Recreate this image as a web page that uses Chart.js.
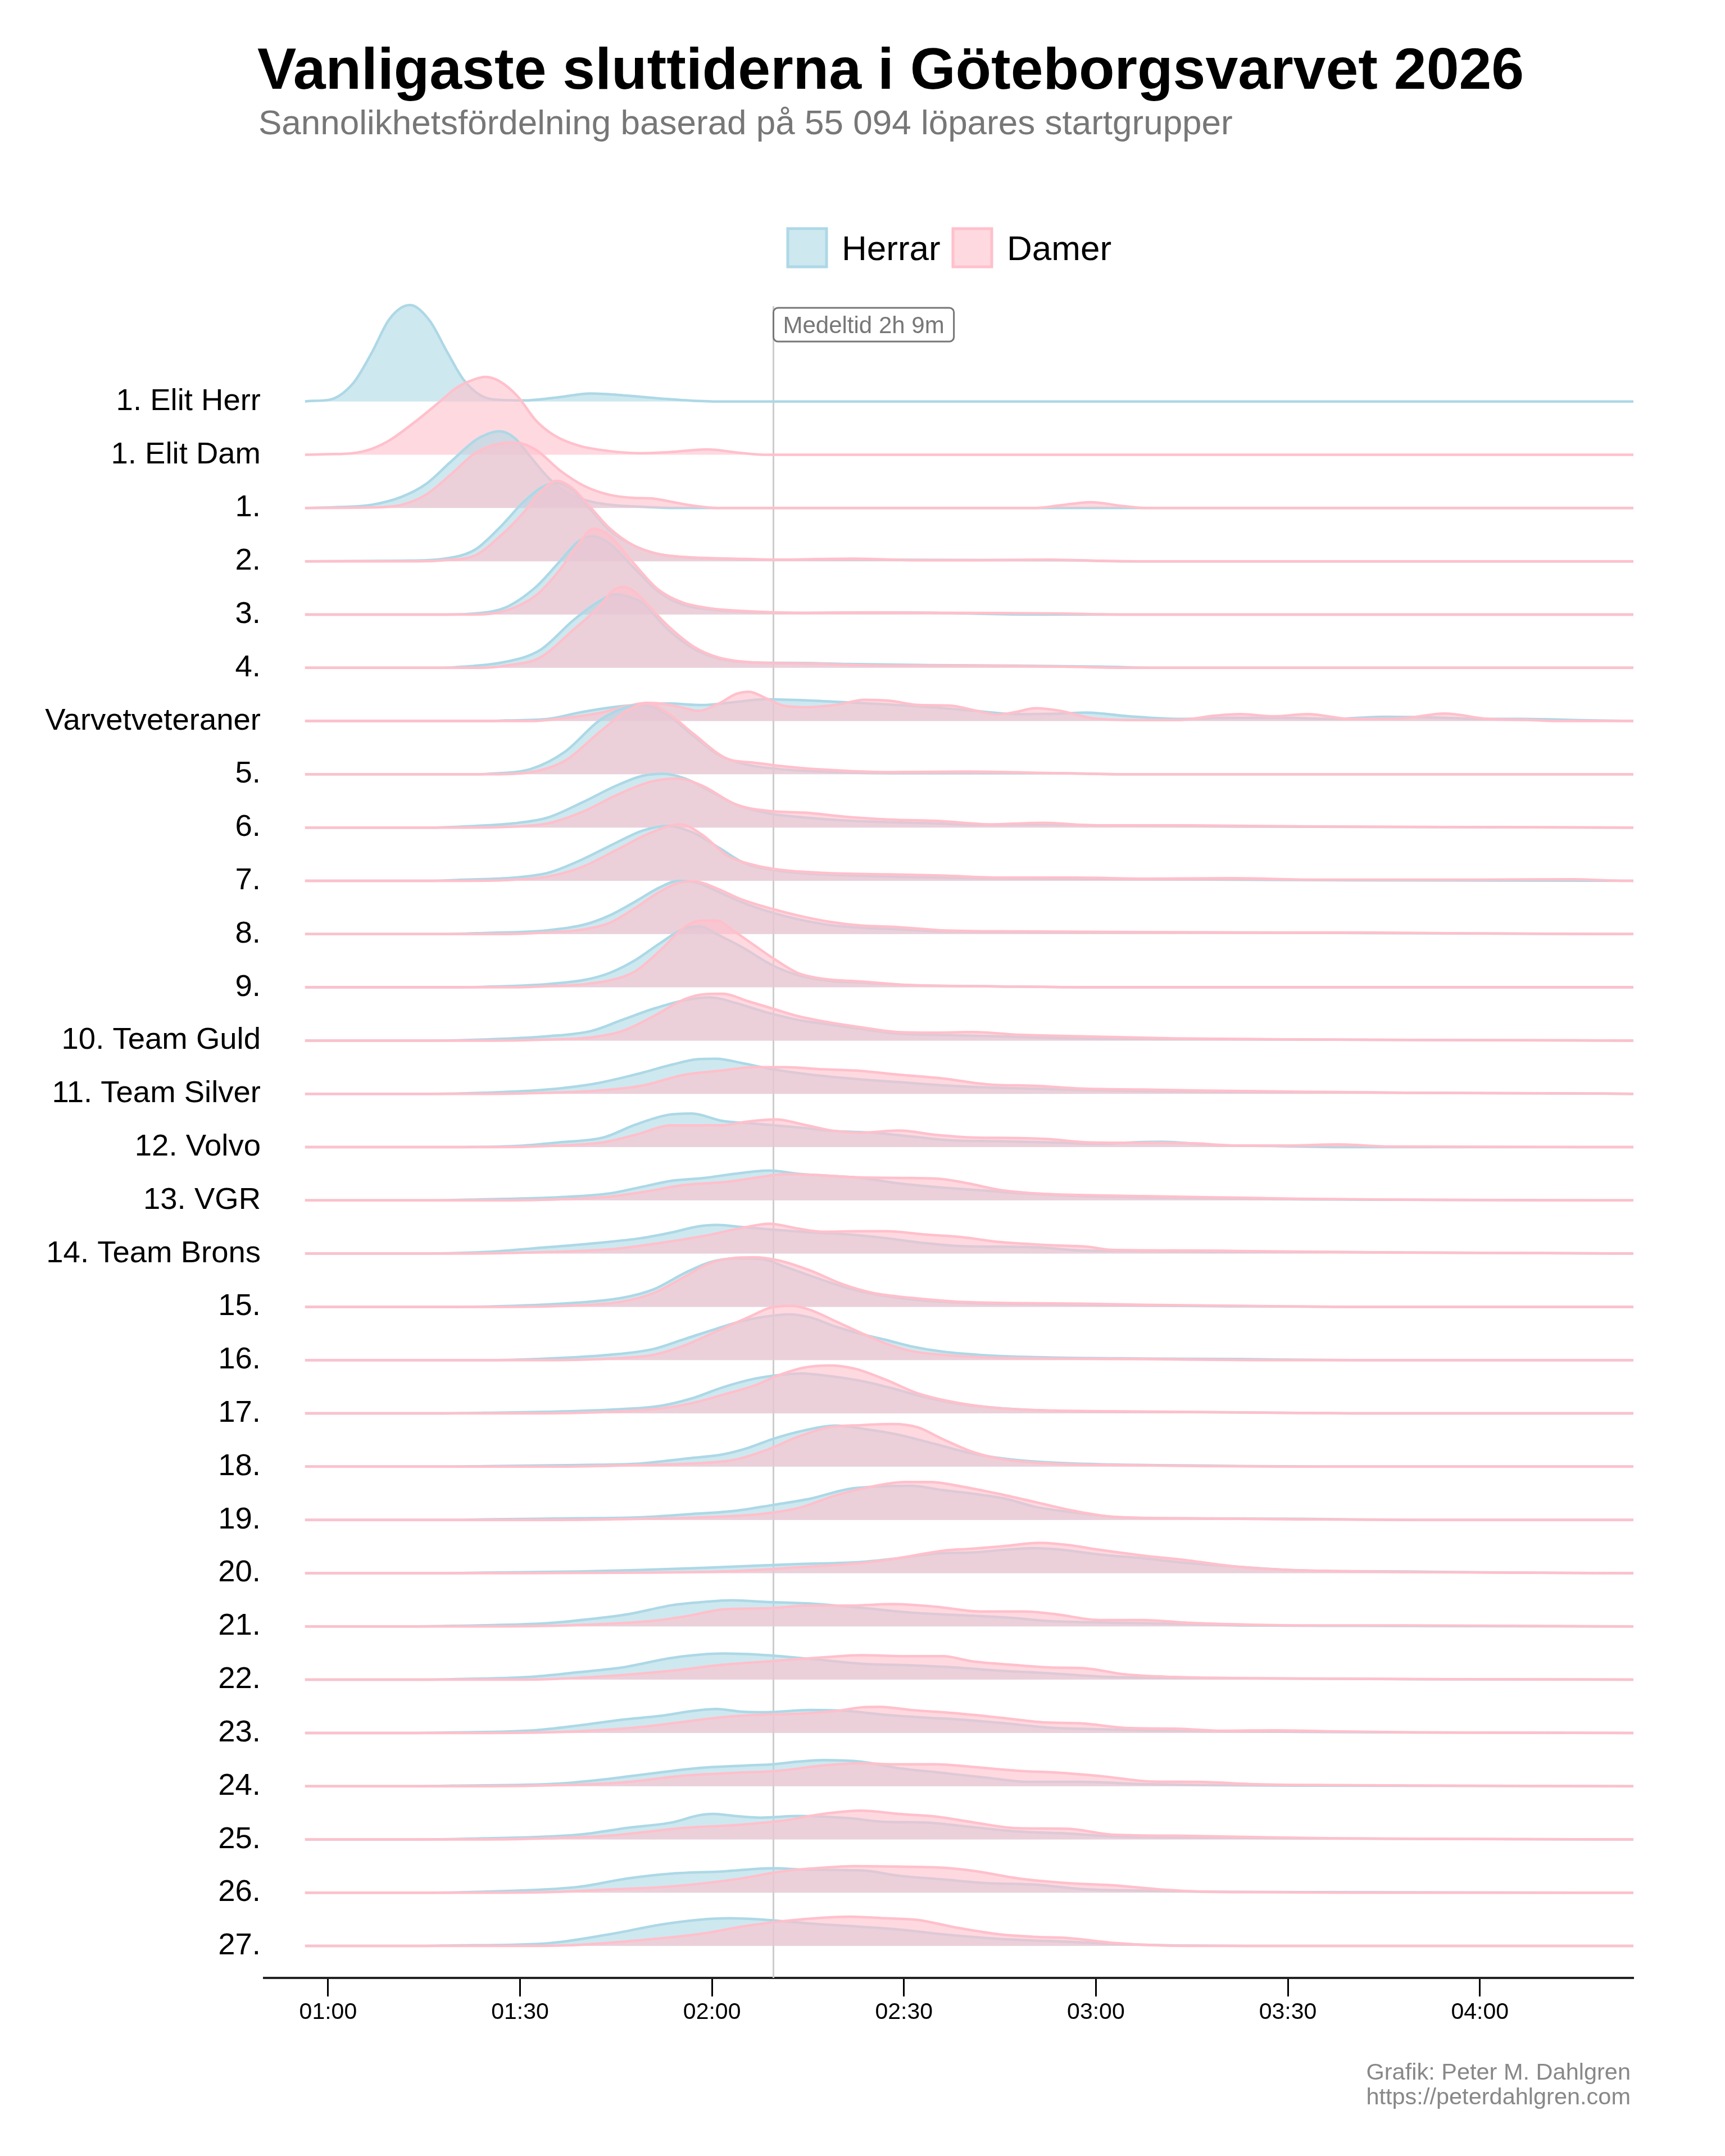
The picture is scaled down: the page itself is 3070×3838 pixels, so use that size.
<!DOCTYPE html>
<html lang="sv">
<head>
<meta charset="utf-8">
<title>Vanligaste sluttiderna i Göteborgsvarvet 2026</title>
<script src="https://cdn.jsdelivr.net/npm/chart.js@4.4.1/dist/chart.umd.min.js"></script>
<style>
  html, body { margin: 0; padding: 0; background: #fff; }
  canvas { display: block; }
</style>
</head>
<body>
<canvas id="chart" width="3070" height="3838"></canvas>
<script>
// Startgrupper, uppifrån och ned
const rader = ["1. Elit Herr", "1. Elit Dam", "1.", "2.", "3.", "4.", "Varvetveteraner", "5.", "6.", "7.", "8.", "9.",
  "10. Team Guld", "11. Team Silver", "12. Volvo", "13. VGR", "14. Team Brons", "15.", "16.", "17.", "18.", "19.",
  "20.", "21.", "22.", "23.", "24.", "25.", "26.", "27."];

// Tid i minuter på x-axeln
const tickMinuter = [60, 90, 120, 150, 180, 210, 240];
const tickEtiketter = ["01:00", "01:30", "02:00", "02:30", "03:00", "03:30", "04:00"];

const medeltid = 129.6;
const medeltidText = "Medeltid 2h 9m";

// Täthet per grupp: [minut, höjd]
const herrar = [
  [[56.4,0],[57.2,0.01],[60.1,0.03],[63.9,0.34],[66.8,0.91],[69.6,1.55],[72.8,1.81],[75.8,1.53],[78.7,0.91],[81.1,0.42],[83.9,0.11],[86.8,0.03],[90.6,0.02],[95.4,0.07],[101.1,0.15],[106.8,0.11],[111.5,0.06],[116.3,0.02],[121,0],[264,0]],
  [],
  [[56.4,0],[62,0.02],[66.8,0.06],[71.5,0.21],[75.3,0.45],[79.1,0.86],[83,1.27],[84.9,1.39],[86.8,1.44],[89.2,1.31],[91.5,0.98],[94.4,0.57],[97.3,0.29],[101.1,0.12],[104.9,0.05],[109.6,0.02],[114,0],[264,0]],
  [[56.4,0],[71.5,0.01],[78.2,0.05],[83,0.22],[86.8,0.63],[90.6,1.12],[93.4,1.39],[95.5,1.47],[97.7,1.39],[101.1,0.96],[103.9,0.59],[107.7,0.3],[111.5,0.14],[116.3,0.07],[121.1,0.05],[126.8,0.03],[140,0.03],[175,0.02],[185,0],[264,0]],
  [[56.4,0],[78,0],[83,0.02],[87.7,0.13],[92.5,0.52],[96.3,1.01],[99.2,1.38],[101.3,1.47],[103.9,1.34],[107.7,0.89],[111.5,0.44],[115.3,0.19],[120.1,0.09],[125.8,0.05],[135.4,0.03],[149.7,0.04],[159.2,0.02],[170,0],[264,0]],
  [[56.4,0],[78,0],[81.1,0.02],[87.7,0.11],[93.1,0.33],[98.4,0.9],[102.4,1.25],[104.9,1.38],[107,1.33],[109.1,1.22],[113.1,0.72],[117.1,0.36],[121.1,0.17],[126.4,0.1],[134.4,0.09],[141.1,0.07],[154.4,0.05],[167.8,0.04],[181.1,0.02],[190,0],[264,0]],
  [[56.4,0],[85,0],[87.7,0.01],[94.4,0.04],[99.7,0.17],[105.1,0.27],[109.1,0.31],[113.1,0.33],[118.4,0.3],[123.8,0.36],[128.4,0.41],[134.4,0.39],[141.1,0.35],[147.8,0.31],[154.4,0.26],[161.1,0.19],[167.8,0.13],[174.5,0.14],[178.5,0.16],[185.1,0.09],[193.1,0.04],[201.1,0.06],[209.1,0.06],[217.1,0.04],[225.1,0.08],[231.8,0.07],[241.2,0.04],[246.5,0.04],[254.5,0.02],[264,0]],
  [[56.4,0],[82,0],[85.1,0.01],[91.7,0.1],[97.1,0.43],[102.4,1.01],[106.4,1.25],[109.3,1.3],[113.1,1.11],[117.1,0.72],[121.1,0.36],[125.1,0.19],[130.4,0.1],[137.1,0.05],[147.8,0.02],[174,0.02],[185,0],[264,0]],
  [[56.4,0],[76,0],[81.1,0.02],[89.1,0.08],[94.4,0.19],[99.7,0.47],[105.1,0.79],[109.1,0.97],[112.4,1.01],[115.8,0.92],[119.8,0.68],[123.8,0.43],[129.1,0.26],[134.4,0.19],[141.1,0.13],[147.8,0.1],[154.4,0.08],[161.1,0.05],[171.8,0.06],[181.1,0.04],[201.1,0.02],[228,0.01],[264,0]],
  [[56.4,0],[76,0],[81.1,0.02],[89.1,0.06],[94.4,0.15],[99.7,0.4],[105.1,0.72],[109.1,0.94],[113.1,1.03],[117.1,0.9],[121.1,0.62],[125.1,0.33],[130.4,0.19],[137.1,0.12],[147.8,0.08],[161.1,0.05],[174.5,0.04],[187.8,0.03],[201.1,0.02],[220,0.01],[264,0]],
  [[56.4,0],[78,0],[84.4,0.02],[94.2,0.07],[100.1,0.18],[104,0.35],[108,0.61],[111.9,0.88],[114.8,1.0],[117.8,0.96],[120.7,0.81],[124.6,0.6],[129.5,0.4],[133.4,0.28],[138.4,0.17],[143.3,0.12],[149.1,0.09],[156,0.05],[167.8,0.04],[182.5,0.03],[202.1,0.03],[221.7,0.02],[240,0.01],[264,0]],
  [[56.4,0],[78,0],[84.4,0.01],[94.2,0.06],[100.1,0.14],[104,0.27],[108,0.51],[111.9,0.83],[115.8,1.11],[118.2,1.14],[120.7,1.0],[124.6,0.76],[129.5,0.41],[133.4,0.23],[138.4,0.12],[143.3,0.09],[151.1,0.04],[162.9,0.02],[180,0],[264,0]],
  [[56.4,0],[76,0],[84.4,0.02],[94.2,0.08],[101.1,0.18],[106,0.39],[110.9,0.6],[115.8,0.76],[119.7,0.81],[123.6,0.71],[128.5,0.53],[133.4,0.39],[138.4,0.3],[143.3,0.22],[149.1,0.13],[158,0.1],[167.8,0.07],[177.6,0.04],[192.3,0.03],[211.9,0.02],[235,0.01],[264,0]],
  [[56.4,0],[76,0],[84.4,0.02],[94.2,0.08],[102.1,0.2],[108.9,0.39],[113.8,0.55],[117.8,0.65],[120.7,0.66],[124.6,0.58],[129.5,0.46],[135.4,0.36],[143.3,0.27],[149.1,0.22],[156,0.16],[162.9,0.12],[172.7,0.09],[182.5,0.06],[197.2,0.04],[211.9,0.03],[228.4,0.02],[250,0.01],[264,0]],
  [[56.4,0],[80,0],[89.3,0.02],[96.2,0.09],[103,0.18],[108,0.42],[112.9,0.6],[116.8,0.63],[121.7,0.49],[126.6,0.44],[133.4,0.37],[139.3,0.3],[145.2,0.27],[151.1,0.2],[157,0.13],[164.8,0.11],[172.7,0.09],[180.5,0.06],[186,0.09],[190.3,0.1],[198.2,0.04],[207,0.02],[220,0],[264,0]],
  [[56.4,0],[76,0],[84.4,0.02],[96.2,0.06],[104,0.13],[108.9,0.25],[113.8,0.37],[118.7,0.42],[123.6,0.5],[129,0.56],[133.4,0.5],[138.4,0.46],[143.3,0.42],[149.1,0.32],[156,0.24],[162.9,0.18],[168.8,0.13],[177.6,0.08],[187.4,0.06],[197.2,0.04],[211.9,0.02],[228.4,0.01],[264,0]],
  [[56.4,0],[72,0],[84.4,0.03],[94.2,0.12],[102.1,0.2],[108.9,0.29],[113.8,0.4],[117.8,0.51],[120.7,0.54],[124.6,0.5],[129.5,0.45],[135.4,0.4],[141.3,0.36],[147.2,0.29],[153.1,0.2],[159,0.14],[164.8,0.13],[170.7,0.12],[177.6,0.06],[187.4,0.05],[202.1,0.03],[216.8,0.03],[228.4,0.02],[250,0.01],[264,0]],
  [[56.4,0],[80,0],[89.3,0.02],[99.1,0.08],[106,0.17],[110.9,0.33],[115.8,0.64],[119.7,0.84],[123.6,0.91],[127.6,0.9],[131.5,0.75],[136.4,0.54],[141.3,0.35],[146.2,0.22],[153.1,0.12],[160.9,0.07],[172.7,0.05],[182.5,0.03],[202.1,0.01],[220,0],[264,0]],
  [[56.4,0],[84,0],[94.2,0.03],[104,0.1],[110.9,0.21],[115.8,0.4],[120.7,0.59],[124.6,0.73],[128.5,0.82],[132,0.86],[135.4,0.8],[139.3,0.63],[143.3,0.49],[147.2,0.38],[151.1,0.26],[156,0.16],[162.9,0.09],[172.7,0.05],[187.4,0.03],[202.1,0.02],[220,0],[264,0]],
  [[56.4,0],[76,0],[84.4,0.01],[94.2,0.03],[104,0.07],[111.9,0.14],[116.8,0.28],[121.7,0.49],[126.6,0.65],[130.5,0.72],[134,0.75],[138.4,0.7],[143.3,0.61],[148.2,0.47],[153.1,0.31],[158,0.19],[164.8,0.1],[172.7,0.05],[182.5,0.03],[202.1,0.02],[220,0],[264,0]],
  [[56.4,0],[78,0],[84.4,0.01],[99.1,0.03],[108.9,0.06],[115.8,0.15],[121.7,0.23],[125.6,0.35],[129.5,0.52],[134.4,0.68],[139.3,0.77],[144.2,0.7],[149.1,0.6],[155,0.42],[160.9,0.24],[165.8,0.15],[172.7,0.08],[182.5,0.04],[197.2,0.02],[215,0],[264,0]],
  [[56.4,0],[80,0],[84.4,0.01],[99.1,0.03],[108.9,0.05],[116.8,0.11],[123.6,0.17],[129.5,0.28],[135.4,0.4],[141.3,0.58],[146.2,0.63],[151.1,0.64],[156,0.56],[160.9,0.49],[165.8,0.4],[170.7,0.24],[176.6,0.14],[182.5,0.06],[192.3,0.03],[211.9,0.02],[230,0],[264,0]],
  [[56.4,0],[76,0],[84.4,0.01],[99.1,0.03],[108.9,0.06],[118.7,0.1],[126.6,0.14],[133.4,0.17],[143.3,0.21],[149.1,0.28],[155,0.37],[160.9,0.39],[165.8,0.44],[170.2,0.47],[174.6,0.44],[180.5,0.35],[187.4,0.28],[194.3,0.19],[202.1,0.12],[210,0.06],[216.8,0.04],[228.4,0.03],[245,0.01],[264,0]],
  [[56.4,0],[72,0],[79.5,0.01],[94.2,0.06],[101.1,0.14],[106.9,0.23],[113.8,0.4],[118.7,0.46],[123.2,0.49],[128.5,0.46],[135.4,0.43],[143.3,0.35],[151.1,0.26],[158.9,0.21],[166.8,0.16],[172.7,0.1],[182.5,0.07],[192.3,0.05],[202.1,0.02],[220,0.01],[264,0]],
  [[56.4,0],[72,0],[79.5,0.01],[91.3,0.05],[99.1,0.14],[106,0.23],[113.8,0.41],[121.7,0.49],[128.5,0.46],[135.4,0.39],[143.3,0.3],[151.1,0.27],[158,0.23],[164.8,0.17],[172.7,0.12],[180.5,0.06],[192.3,0.03],[211.9,0.02],[230,0.01],[264,0]],
  [[56.4,0],[72,0],[79.5,0.01],[92.2,0.05],[99.1,0.14],[106,0.25],[111.9,0.32],[116.8,0.41],[120.7,0.45],[124.6,0.4],[128.5,0.39],[135.4,0.43],[141.3,0.41],[147.2,0.34],[153.1,0.29],[159,0.25],[165.8,0.18],[172.7,0.1],[180.5,0.07],[187.4,0.05],[197.2,0.04],[211.9,0.02],[230,0.01],[264,0]],
  [[56.4,0],[72,0],[79.5,0.01],[96.2,0.05],[104,0.14],[109.9,0.23],[117.8,0.34],[125.6,0.39],[129.5,0.41],[133.4,0.46],[137.4,0.49],[143.3,0.46],[149.1,0.34],[156,0.25],[162.9,0.16],[169.7,0.08],[177.6,0.08],[187.4,0.04],[197.2,0.02],[215,0.01],[264,0]],
  [[56.4,0],[74,0],[84.4,0.02],[99.1,0.09],[106.9,0.22],[113.8,0.32],[117.8,0.45],[120.2,0.48],[123.6,0.44],[127.6,0.41],[133.4,0.44],[141.3,0.4],[147.2,0.33],[153.1,0.32],[160,0.24],[167.8,0.15],[175.6,0.11],[182.5,0.06],[192.3,0.04],[211.9,0.02],[230,0.01],[264,0]],
  [[56.4,0],[74,0],[84.4,0.02],[99.1,0.11],[106.9,0.27],[113.8,0.36],[121.7,0.4],[129.5,0.46],[135.4,0.43],[143.3,0.42],[149.1,0.32],[156,0.25],[162.9,0.18],[170.7,0.15],[177.6,0.07],[187.4,0.04],[197.2,0.02],[215,0.01],[264,0]],
  [[56.4,0],[72,0],[79.5,0.01],[94.2,0.05],[104,0.22],[111.9,0.4],[117.8,0.49],[122.7,0.52],[128.5,0.49],[135.4,0.42],[143.3,0.36],[149.1,0.31],[156,0.22],[162.9,0.15],[168.8,0.11],[175.6,0.08],[182.5,0.04],[192.3,0.01],[205,0],[264,0]]
];

const damer = [
  [],
  [[56.4,0],[60,0.01],[63.9,0.03],[66.8,0.11],[69.6,0.27],[73.4,0.6],[77.2,0.97],[80.1,1.26],[82.5,1.4],[84.6,1.46],[86.8,1.38],[89.6,1.1],[92.5,0.64],[95.4,0.36],[99.2,0.17],[103.9,0.07],[108.7,0.03],[113.5,0.05],[119.2,0.1],[124,0.04],[128,0],[264,0]],
  [[56.4,0],[66.8,0.01],[71.5,0.06],[75.3,0.25],[79.1,0.62],[83,1.03],[86.8,1.21],[89.3,1.23],[92.5,1.09],[96.3,0.7],[100.1,0.41],[103.9,0.25],[107.7,0.19],[110.6,0.18],[113.5,0.12],[117.3,0.04],[121,0],[170.6,0],[174.4,0.05],[179.2,0.11],[184,0.04],[187.8,0],[264,0]],
  [[56.4,0],[74,0],[78.2,0.02],[83,0.11],[86.8,0.46],[90.6,0.92],[93.4,1.33],[95.8,1.51],[98.2,1.37],[101.1,1.0],[103.9,0.63],[107.7,0.3],[111.5,0.14],[117.3,0.07],[123,0.05],[130.6,0.03],[142,0.05],[151.6,0.02],[162,0.02],[172.5,0.03],[180,0.01],[188,0],[264,0]],
  [[56.4,0],[82,0],[87.7,0.07],[92.5,0.36],[96.3,0.85],[99.2,1.34],[101.5,1.61],[103.9,1.49],[107.7,0.97],[111.5,0.48],[115.3,0.23],[120.1,0.11],[125.8,0.06],[135.4,0.03],[144.9,0.04],[159.2,0.03],[173.5,0.02],[185,0],[264,0]],
  [[56.4,0],[84,0],[87.7,0.04],[93.1,0.19],[98.4,0.72],[102.4,1.15],[104.5,1.45],[106.1,1.52],[107.7,1.45],[109.1,1.29],[113.1,0.79],[117.1,0.4],[121.1,0.19],[126.4,0.1],[134.4,0.08],[147.8,0.04],[161.1,0.04],[175,0.02],[185,0],[264,0]],
  [[56.4,0],[92,0],[94.4,0.02],[102.4,0.15],[107.1,0.29],[109.8,0.34],[111.8,0.33],[115.1,0.26],[117.8,0.19],[121.1,0.33],[123.8,0.51],[125.8,0.55],[128.4,0.43],[131.1,0.29],[134.4,0.26],[139.8,0.31],[143.8,0.4],[147.8,0.38],[152.4,0.3],[157.1,0.29],[161.1,0.2],[164.4,0.12],[167.5,0.17],[170.5,0.24],[174.5,0.19],[179.1,0.06],[185.1,0.02],[193.1,0.02],[198.5,0.1],[202.5,0.13],[207.8,0.09],[213.1,0.13],[219.8,0.04],[227.8,0.05],[234.5,0.14],[241.2,0.04],[247.8,0.02],[252,0],[264,0]],
  [[56.4,0],[86,0],[91.7,0.04],[97.1,0.26],[102.4,0.79],[107.1,1.22],[109.8,1.33],[113.1,1.15],[117.1,0.76],[122.4,0.29],[126.4,0.22],[130.4,0.16],[137.1,0.09],[147.8,0.04],[159.8,0.05],[174.5,0.02],[187,0],[264,0]],
  [[56.4,0],[82,0],[89.1,0.02],[94.4,0.08],[99.7,0.29],[105.1,0.61],[110.4,0.86],[114.4,0.92],[118.4,0.79],[123.8,0.43],[129.1,0.31],[134.4,0.28],[141.1,0.2],[147.8,0.15],[155.8,0.12],[163.8,0.06],[171.8,0.09],[179.8,0.04],[194.5,0.04],[214.5,0.02],[234,0.01],[264,0]],
  [[56.4,0],[82,0],[89.1,0.02],[94.4,0.08],[99.7,0.26],[105.1,0.58],[110.4,0.9],[115.1,1.06],[118.4,0.87],[122.4,0.47],[126.4,0.3],[130.4,0.21],[137.1,0.15],[147.8,0.12],[155.8,0.1],[165.1,0.06],[177.1,0.06],[187.8,0.04],[201.1,0.05],[214.5,0.02],[240,0.02],[254.5,0.03],[262,0],[264,0]],
  [[56.4,0],[86,0],[94.2,0.03],[100.1,0.09],[104,0.21],[108,0.49],[111.9,0.8],[114.8,0.96],[117.3,0.99],[120.7,0.86],[124.6,0.65],[129.5,0.47],[133.4,0.35],[138.4,0.23],[143.3,0.16],[149.1,0.13],[156,0.07],[167.8,0.05],[182.5,0.04],[202.1,0.03],[221.7,0.03],[240,0.01],[264,0]],
  [[56.4,0],[88,0],[94.2,0.02],[100.1,0.06],[104,0.13],[108,0.3],[111.9,0.69],[115.8,1.14],[118.2,1.25],[120.7,1.25],[123.6,1.04],[126.6,0.79],[129.5,0.55],[133.4,0.27],[137.4,0.16],[143.3,0.11],[151.1,0.04],[162.9,0.02],[180,0],[264,0]],
  [[56.4,0],[86,0],[94.2,0.02],[101.1,0.06],[106,0.18],[110.9,0.46],[115.8,0.78],[118.7,0.87],[121.7,0.88],[125.6,0.74],[129.5,0.6],[133.4,0.46],[138.4,0.34],[143.3,0.25],[149.1,0.16],[155,0.15],[160.9,0.16],[167.8,0.11],[177.6,0.08],[192.3,0.04],[211.9,0.02],[235,0.01],[264,0]],
  [[56.4,0],[86,0],[94.2,0.02],[102.1,0.06],[108.9,0.15],[115.8,0.36],[121.7,0.44],[126.6,0.5],[131.5,0.5],[137.4,0.46],[143.3,0.43],[149.1,0.36],[156,0.29],[162.9,0.18],[170.7,0.15],[177.6,0.1],[187.4,0.08],[197.2,0.06],[211.9,0.04],[228.4,0.02],[250,0.01],[264,0]],
  [[56.4,0],[86,0],[96.2,0.03],[103,0.09],[108,0.23],[113.8,0.41],[117.8,0.41],[121.7,0.41],[125.6,0.48],[130,0.52],[134.4,0.42],[139.3,0.3],[143.3,0.27],[149.1,0.31],[155,0.23],[160.9,0.18],[167.8,0.17],[172.7,0.15],[178.6,0.09],[187.4,0.08],[195.3,0.07],[202.1,0.03],[210,0.03],[217.8,0.05],[226,0.01],[264,0]],
  [[56.4,0],[84,0],[96.2,0.02],[104,0.07],[108.9,0.15],[115.8,0.29],[121.7,0.34],[126.6,0.42],[131.5,0.49],[135.4,0.48],[143.3,0.43],[151.1,0.42],[156,0.4],[160,0.32],[164.8,0.2],[170.7,0.13],[177.6,0.1],[187.4,0.08],[197.2,0.06],[211.9,0.03],[228.4,0.01],[264,0]],
  [[56.4,0],[80,0],[94.2,0.03],[104,0.08],[111.9,0.2],[118.7,0.33],[124.6,0.48],[129,0.56],[133.4,0.47],[137.4,0.41],[143.3,0.42],[147.2,0.42],[153.1,0.36],[159,0.31],[164.8,0.22],[172.7,0.16],[178.6,0.13],[182.5,0.07],[192.3,0.06],[202.1,0.05],[216.8,0.03],[228.4,0.02],[250,0.01],[264,0]],
  [[56.4,0],[88,0],[99.1,0.03],[106,0.1],[110.9,0.26],[115.8,0.57],[119.7,0.82],[123.6,0.92],[126.6,0.93],[130.5,0.87],[135.4,0.68],[140.3,0.43],[145.2,0.26],[151.1,0.17],[158,0.1],[167.8,0.07],[177.6,0.06],[187.4,0.04],[202.1,0.02],[220,0],[264,0]],
  [[56.4,0],[92,0],[104,0.03],[110.9,0.1],[115.8,0.28],[120.7,0.54],[125.6,0.8],[129,0.98],[132.5,1.02],[135.4,0.94],[139.3,0.73],[143.3,0.51],[147.2,0.31],[151.1,0.17],[156,0.1],[162.9,0.05],[172.7,0.03],[187.4,0.02],[205,0],[264,0]],
  [[56.4,0],[90,0],[104,0.03],[111.9,0.09],[116.8,0.19],[121.7,0.35],[126.6,0.52],[130.5,0.72],[134.4,0.86],[138.4,0.9],[142.3,0.84],[147.2,0.63],[152.1,0.38],[157,0.23],[162.9,0.12],[170.7,0.06],[182.5,0.04],[202.1,0.02],[220,0],[264,0]],
  [[56.4,0],[95,0],[108.9,0.03],[118.7,0.07],[123.6,0.13],[128.5,0.31],[133.4,0.56],[138.4,0.74],[143.3,0.78],[148.2,0.8],[152.1,0.74],[156,0.52],[160.9,0.27],[165.8,0.13],[172.7,0.06],[182.5,0.03],[197.2,0.01],[210,0],[264,0]],
  [[56.4,0],[95,0],[108.9,0.02],[118.7,0.05],[127.6,0.11],[133.4,0.22],[139.3,0.46],[145.2,0.63],[150.1,0.71],[154,0.71],[158.9,0.63],[164.8,0.49],[170.7,0.33],[176.6,0.17],[182.5,0.06],[192.3,0.03],[211.9,0.01],[230,0],[264,0]],
  [[56.4,0],[90,0],[108.9,0.01],[123.6,0.04],[133.4,0.11],[143.3,0.19],[149.1,0.28],[156,0.42],[160.9,0.46],[165.8,0.51],[171.2,0.57],[175.6,0.53],[180.5,0.44],[187.4,0.33],[194.3,0.24],[202.1,0.12],[210,0.06],[216.8,0.04],[228.4,0.02],[245,0.01],[264,0]],
  [[56.4,0],[85,0],[94.2,0.01],[104,0.05],[111.9,0.12],[116.8,0.21],[121.7,0.32],[128.5,0.34],[135.4,0.39],[141.3,0.39],[148.2,0.42],[155,0.37],[161.9,0.28],[168.8,0.28],[173.7,0.23],[180.5,0.12],[187.4,0.12],[194.3,0.07],[202.1,0.04],[211.9,0.02],[228.4,0.02],[245,0.01],[264,0]],
  [[56.4,0],[85,0],[94.2,0.01],[104,0.07],[113.8,0.17],[121.7,0.28],[129.5,0.35],[137.4,0.42],[143.3,0.46],[151.1,0.44],[156,0.44],[160.9,0.34],[166.8,0.28],[172.7,0.23],[178.6,0.21],[184.5,0.1],[192.3,0.05],[202.1,0.03],[216.8,0.02],[235,0.01],[264,0]],
  [[56.4,0],[85,0],[99.1,0.03],[107,0.09],[113.8,0.18],[119.7,0.27],[125.6,0.33],[133.4,0.36],[139.3,0.41],[143.3,0.48],[146.2,0.49],[151.1,0.43],[158,0.37],[164.8,0.29],[171.7,0.2],[177.6,0.18],[185.4,0.09],[192.3,0.08],[200.2,0.04],[208,0.05],[216.8,0.03],[230,0.01],[264,0]],
  [[56.4,0],[85,0],[96.2,0.02],[106,0.07],[115.8,0.2],[123.6,0.25],[130.5,0.29],[137.4,0.39],[143.3,0.43],[149.1,0.41],[155,0.41],[160.9,0.36],[167.8,0.29],[174.6,0.25],[181.5,0.18],[188.4,0.09],[196.2,0.08],[204.1,0.04],[216.8,0.02],[235,0.01],[264,0]],
  [[56.4,0],[85,0],[94.2,0.02],[104,0.07],[115.8,0.22],[123.6,0.27],[131.5,0.36],[137.4,0.48],[143.3,0.54],[149.1,0.48],[155,0.43],[160.9,0.32],[167.8,0.21],[175.6,0.2],[182.5,0.09],[192.3,0.07],[202.1,0.05],[216.8,0.02],[235,0.01],[264,0]],
  [[56.4,0],[85,0],[94.2,0.01],[104,0.06],[113.8,0.12],[123.6,0.25],[131.5,0.41],[137.4,0.47],[142.3,0.5],[149.1,0.49],[156,0.47],[160.9,0.41],[167.8,0.27],[175.6,0.18],[182.5,0.14],[190.3,0.06],[197.2,0.02],[207,0.01],[220,0],[264,0]],
  [[56.4,0],[88,0],[99.1,0.02],[108.9,0.11],[117.8,0.22],[125.6,0.38],[131.5,0.47],[137.4,0.53],[141.3,0.55],[147.2,0.52],[152.1,0.49],[158,0.35],[164.8,0.22],[170.7,0.17],[175.6,0.15],[182.5,0.06],[190.3,0.01],[200,0],[264,0]]
];

const FONT = "'Liberation Sans', Arial, Helvetica, sans-serif";
const BLA = '#add8e6';
const ROSA = '#ffc0cb';

Chart.defaults.font.family = FONT;

// Bygg ett dataset per kön och grupp; lägre rader ritas ovanpå
const datasets = [];
let k = 0;
rader.forEach(function(namn, i) {
  const bas = rader.length - 1 - i;
  [[herrar[i], 'Herrar', BLA, 'rgba(173,216,230,0.6)'],
   [damer[i], 'Damer', ROSA, 'rgba(255,192,203,0.6)']].forEach(function(s) {
    if (!s[0].length) return;
    datasets.push({
      label: s[1] + ' ' + namn,
      data: s[0].map(function(p) { return { x: p[0], y: bas + p[1] }; }),
      borderColor: s[2],
      backgroundColor: s[3],
      borderWidth: 4.5,
      pointRadius: 0,
      cubicInterpolationMode: 'monotone',
      fill: { value: bas },
      clip: false,
      order: -k
    });
    k++;
  });
});

const dekor = {
  id: 'dekor',
  beforeDatasetsDraw(chart) {
    const { ctx, chartArea } = chart;
    const px = chart.scales.x.getPixelForValue(medeltid);
    ctx.save();
    ctx.strokeStyle = '#cccccc';
    ctx.lineWidth = 3;
    ctx.beginPath();
    ctx.moveTo(px, chartArea.top);
    ctx.lineTo(px, chartArea.bottom);
    ctx.stroke();
    ctx.restore();
  },
  afterDatasetsDraw(chart) {
    const { ctx, chartArea } = chart;
    const px = chart.scales.x.getPixelForValue(medeltid);
    ctx.save();
    ctx.font = '42px ' + FONT;
    const w = ctx.measureText(medeltidText).width + 34;
    const top = chartArea.top + 3;
    ctx.beginPath();
    ctx.roundRect(px, top, w, 60, 8);
    ctx.fillStyle = '#ffffff';
    ctx.fill();
    ctx.strokeStyle = '#777777';
    ctx.lineWidth = 3;
    ctx.stroke();
    ctx.fillStyle = '#777777';
    ctx.textBaseline = 'alphabetic';
    ctx.fillText(medeltidText, px + 17, top + 45);
    ctx.restore();
  },
  afterDraw(chart) {
    const ctx = chart.ctx;
    ctx.save();
    ctx.textBaseline = 'alphabetic';
    ctx.textAlign = 'left';
    ctx.fillStyle = '#000';
    ctx.font = 'bold 104px ' + FONT;
    ctx.fillText('Vanligaste sluttiderna i Göteborgsvarvet 2026', 458, 158);
    ctx.fillStyle = '#777777';
    ctx.font = '62px ' + FONT;
    ctx.fillText('Sannolikhetsfördelning baserad på 55 094 löpares startgrupper', 460, 239);

    // förklaring
    const poster = [['Herrar', BLA, 'rgba(173,216,230,0.6)', 1402], ['Damer', ROSA, 'rgba(255,192,203,0.6)', 1696]];
    poster.forEach(function(p) {
      ctx.fillStyle = '#ffffff';
      ctx.fillRect(p[3], 407, 69, 68);
      ctx.fillStyle = p[2];
      ctx.fillRect(p[3], 407, 69, 68);
      ctx.strokeStyle = p[1];
      ctx.lineWidth = 5;
      ctx.strokeRect(p[3], 407, 69, 68);
      ctx.fillStyle = '#000';
      ctx.font = '62px ' + FONT;
      ctx.fillText(p[0], p[3] + 96, 463);
    });

    ctx.fillStyle = '#888888';
    ctx.font = '41.5px ' + FONT;
    ctx.textAlign = 'right';
    ctx.fillText('Grafik: Peter M. Dahlgren', 2902, 3702);
    ctx.fillText('https://peterdahlgren.com', 2902, 3746);
    ctx.restore();
  }
};

new Chart(document.getElementById('chart'), {
  type: 'line',
  data: { datasets: datasets },
  plugins: [dekor],
  options: {
    responsive: false,
    devicePixelRatio: 1,
    animation: false,
    events: [],
    layout: { padding: { left: 0, right: 163, top: 545, bottom: 197 } },
    plugins: {
      legend: { display: false },
      tooltip: { enabled: false },
      title: { display: false }
    },
    scales: {
      x: {
        type: 'linear',
        min: 50,
        max: 264,
        afterBuildTicks: function(s) { s.ticks = tickMinuter.map(function(v) { return { value: v }; }); },
        afterFit: function(s) { s.height = 120; },
        ticks: {
          autoSkip: false,
          maxRotation: 0,
          padding: 4,
          color: '#000',
          font: { size: 41 },
          callback: function(v) { return tickEtiketter[tickMinuter.indexOf(v)]; }
        },
        grid: { display: true, drawOnChartArea: false, drawTicks: true, tickLength: 33, tickWidth: 3, tickColor: '#000' },
        border: { display: true, color: '#222', width: 4 }
      },
      y: {
        type: 'linear',
        min: -0.6,
        max: 30.79,
        afterBuildTicks: function(s) { s.ticks = rader.map(function(_, i) { return { value: i }; }); },
        afterFit: function(s) { s.width = 470; },
        ticks: {
          autoSkip: false,
          padding: 6,
          color: '#000',
          font: { size: 54.5 },
          callback: function(v) { return rader[rader.length - 1 - v]; }
        },
        grid: { display: false, drawTicks: false },
        border: { display: false }
      }
    }
  }
});
</script>
</body>
</html>
